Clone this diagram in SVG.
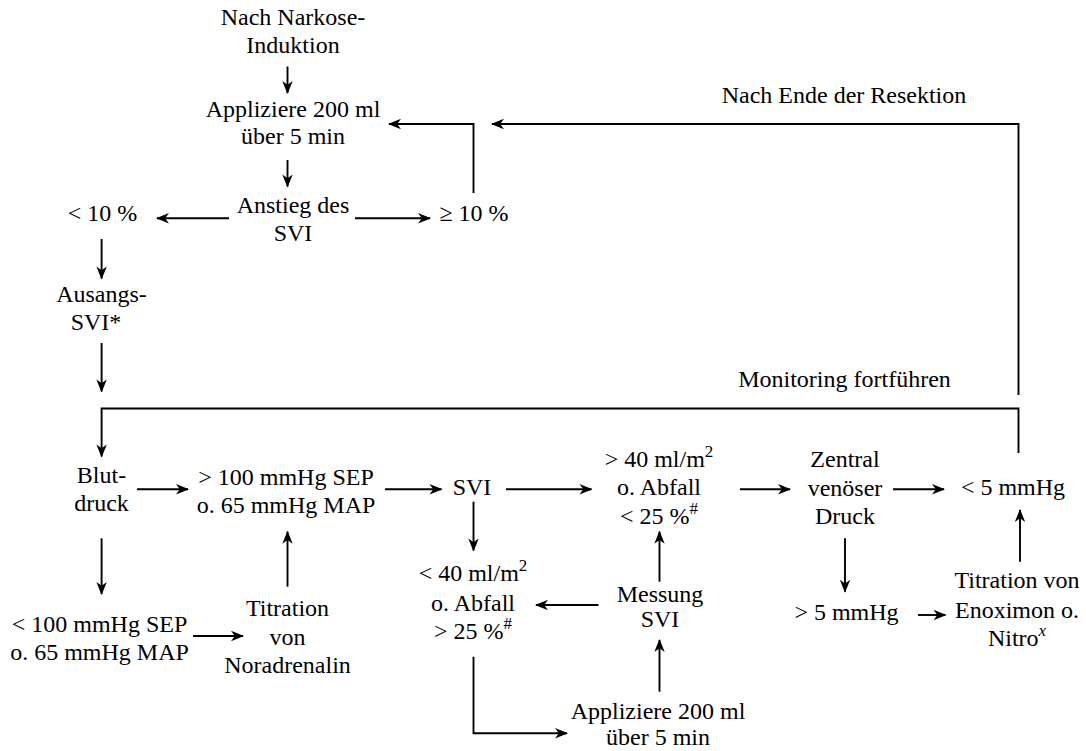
<svg xmlns="http://www.w3.org/2000/svg" width="1086" height="751" viewBox="0 0 1086 751">
<defs>
<marker id="ah" markerUnits="userSpaceOnUse" markerWidth="16" markerHeight="14" viewBox="-14 -7 16 14" refX="-1" refY="0" orient="auto">
<path d="M0,0 L-13,-5.2 L-9.2,0 L-13,5.2 Z" fill="#000"/>
</marker>
</defs>
<style>
text{font-family:"Liberation Serif","Times New Roman",serif;font-size:24px;fill:#000;text-anchor:middle}
.c line,.c polyline{stroke:#000;stroke-width:1.9;fill:none}
.a{marker-end:url(#ah)}
.sup{font-size:17px}
</style>
<rect width="1086" height="751" fill="#fff"/>
<g id="n-induktion"><text x="293" y="25">Nach Narkose-</text><text x="293" y="53">Induktion</text></g>
<g id="n-appl1"><text x="293" y="117">Appliziere 200 ml</text><text x="293" y="144">über 5 min</text></g>
<g id="n-anstieg"><text x="293" y="213">Anstieg des</text><text x="293" y="241">SVI</text></g>
<g id="n-lt10"><text x="102.5" y="221">&lt; 10 %</text></g>
<g id="n-ge10"><text x="474" y="221">≥ 10 %</text></g>
<g id="n-ausgang"><text x="101.5" y="302">Ausangs-</text><text x="96" y="330">SVI*</text></g>
<g id="n-ende"><text x="844" y="103">Nach Ende der Resektion</text></g>
<g id="n-monitoring"><text x="844.5" y="387">Monitoring fortführen</text></g>
<g id="n-blut"><text x="101.5" y="483">Blut-</text><text x="101.5" y="511">druck</text></g>
<g id="n-gt100"><text x="286" y="485">&gt; 100 mmHg SEP</text><text x="286" y="513">o. 65 mmHg MAP</text></g>
<g id="n-svi"><text x="472" y="495">SVI</text></g>
<g id="n-gt40"><text x="659" y="467">&gt; 40 ml/m<tspan class="sup" dy="-10">2</tspan></text><text x="659" y="495">o. Abfall</text><text x="659" y="524">&lt; 25 %<tspan class="sup" dy="-10">#</tspan></text></g>
<g id="n-zvd"><text x="845" y="467">Zentral</text><text x="845" y="495.5">venöser</text><text x="845" y="524">Druck</text></g>
<g id="n-lt5"><text x="1013" y="495">&lt; 5 mmHg</text></g>
<g id="n-lt40"><text x="473" y="581">&lt; 40 ml/m<tspan class="sup" dy="-10">2</tspan></text><text x="473" y="611">o. Abfall</text><text x="473" y="639">&gt; 25 %<tspan class="sup" dy="-10">#</tspan></text></g>
<g id="n-lt100"><text x="99.5" y="632">&lt; 100 mmHg SEP</text><text x="99.5" y="660">o. 65 mmHg MAP</text></g>
<g id="n-nora"><text x="287.5" y="616">Titration</text><text x="287.5" y="645">von</text><text x="287.5" y="673">Noradrenalin</text></g>
<g id="n-messung"><text x="660" y="602">Messung</text><text x="660" y="627">SVI</text></g>
<g id="n-gt5"><text x="846.5" y="620">&gt; 5 mmHg</text></g>
<g id="n-enox"><text x="1017" y="588">Titration von</text><text x="1017" y="618">Enoximon o.</text><text x="1017" y="646">Nitro<tspan class="sup" dy="-10" font-style="italic">x</tspan></text></g>
<g id="n-appl2"><text x="658" y="719">Appliziere 200 ml</text><text x="658" y="745">über 5 min</text></g>
<g id="connectors" class="c">
<line class="a" x1="287.5" y1="66.5" x2="287.5" y2="93"/>
<line class="a" x1="287.5" y1="160" x2="287.5" y2="186.5"/>
<line class="a" x1="229" y1="218.3" x2="157" y2="218.3"/>
<line class="a" x1="355" y1="218.3" x2="430" y2="218.3"/>
<polyline class="a" points="473.5,193 473.5,124 389,124"/>
<polyline class="a" points="1018.5,395 1018.5,124 492,124"/>
<line class="a" x1="101.6" y1="239" x2="101.6" y2="278.5"/>
<line class="a" x1="101.6" y1="343" x2="101.6" y2="391.5"/>
<polyline class="a" points="1018.5,453 1018.5,408.5 101.6,408.5 101.6,456.5"/>
<line class="a" x1="137" y1="489.3" x2="188" y2="489.3"/>
<line class="a" x1="385" y1="489.3" x2="441.5" y2="489.3"/>
<line class="a" x1="506" y1="489.3" x2="591.5" y2="489.3"/>
<line class="a" x1="740" y1="489.3" x2="790" y2="489.3"/>
<line class="a" x1="893" y1="489.3" x2="944" y2="489.3"/>
<line class="a" x1="473.5" y1="501.7" x2="473.5" y2="550.5"/>
<line class="a" x1="101.6" y1="538.3" x2="101.6" y2="594"/>
<line class="a" x1="193" y1="636" x2="243" y2="636"/>
<line class="a" x1="287.5" y1="586.7" x2="287.5" y2="531.7"/>
<polyline class="a" points="473.5,656.7 473.5,733.3 567,733.3"/>
<line class="a" x1="659.5" y1="581.7" x2="659.5" y2="531.7"/>
<line class="a" x1="659.5" y1="691.7" x2="659.5" y2="640"/>
<line class="a" x1="598.5" y1="605" x2="536" y2="605"/>
<line class="a" x1="845" y1="538.3" x2="845" y2="591.7"/>
<line class="a" x1="918" y1="615" x2="945.5" y2="615"/>
<line class="a" x1="1020" y1="561.7" x2="1020" y2="510"/>
</g>
</svg>
